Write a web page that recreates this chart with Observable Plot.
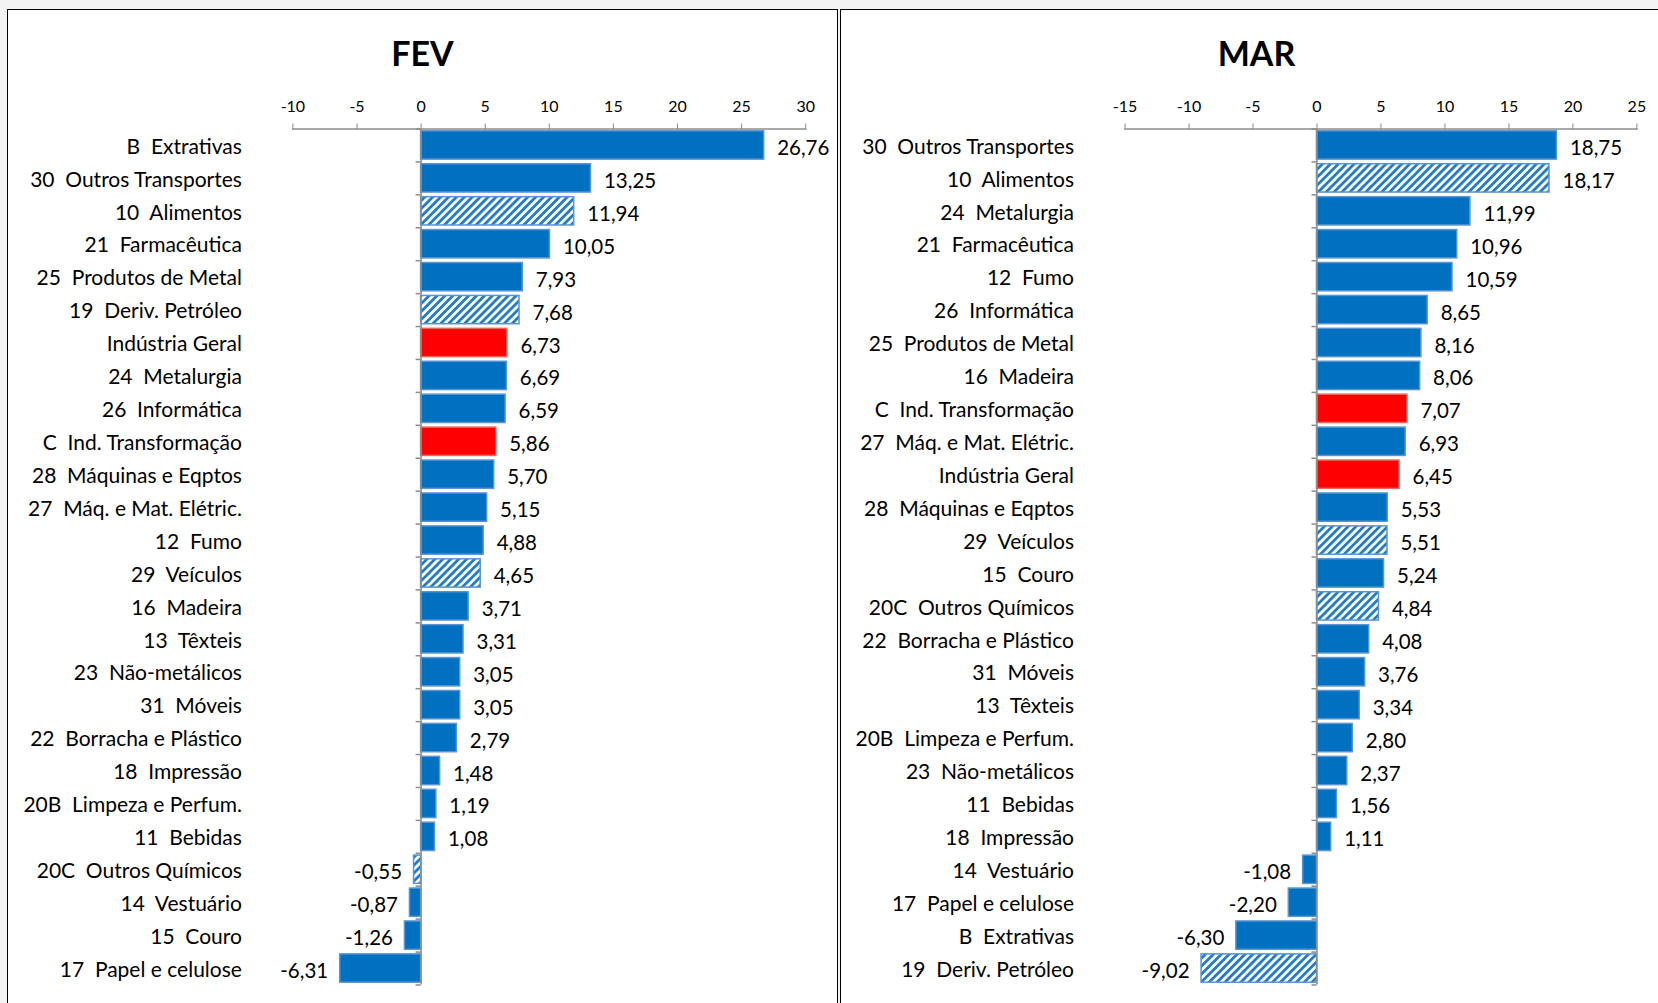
<!DOCTYPE html>
<html><head><meta charset="utf-8">
<script src="https://cdn.jsdelivr.net/npm/d3@7"></script>
<script src="https://cdn.jsdelivr.net/npm/@observablehq/plot@0.6"></script>
<style>
body{margin:0;width:1658px;height:1003px;overflow:hidden;background:#f3f3f3;font-family:Lato,"Open Sans",sans-serif;position:relative}
.panel{position:absolute;top:9px;height:1000px;background:#fff;border:1.5px solid #000;border-bottom:none;overflow:hidden}
#fev{left:7px;width:829px}
#mar{left:840px;width:830px}
.title{position:absolute;left:0;right:0;text-align:center;font-weight:bold;font-size:34px;top:26px;color:#000;line-height:1}
#mar .title{left:0;width:831px;right:auto}
.panel svg{position:absolute;left:0;top:0;white-space:pre}
</style>
</head><body>
<svg width="0" height="0" style="position:absolute">
  <defs>
    <pattern id="hatch" patternUnits="userSpaceOnUse" width="5.6" height="5.6" patternTransform="rotate(45)">
      <rect width="5.6" height="5.6" fill="#ffffff"/>
      <rect width="2.7" height="5.6" fill="#1a78c8"/>
    </pattern>
  </defs>
</svg>
<div class="panel" id="fev"><div class="title">FEV</div></div>
<div class="panel" id="mar"><div class="title">MAR</div></div>
<script>
// ---- Data ----
const fevCategories = ["B  Extrativas","30  Outros Transportes","10  Alimentos","21  Farmacêutica","25  Produtos de Metal","19  Deriv. Petróleo","Indústria Geral","24  Metalurgia","26  Informática","C  Ind. Transformação","28  Máquinas e Eqptos","27  Máq. e Mat. Elétric.","12  Fumo","29  Veículos","16  Madeira","13  Têxteis","23  Não-metálicos","31  Móveis","22  Borracha e Plástico","18  Impressão","20B  Limpeza e Perfum.","11  Bebidas","20C  Outros Químicos","14  Vestuário","15  Couro","17  Papel e celulose"];
const fevValues = [26.76,13.25,11.94,10.05,7.93,7.68,6.73,6.69,6.59,5.86,5.70,5.15,4.88,4.65,3.71,3.31,3.05,3.05,2.79,1.48,1.19,1.08,-0.55,-0.87,-1.26,-6.31];

const marCategories = ["30  Outros Transportes","10  Alimentos","24  Metalurgia","21  Farmacêutica","12  Fumo","26  Informática","25  Produtos de Metal","16  Madeira","C  Ind. Transformação","27  Máq. e Mat. Elétric.","Indústria Geral","28  Máquinas e Eqptos","29  Veículos","15  Couro","20C  Outros Químicos","22  Borracha e Plástico","31  Móveis","13  Têxteis","20B  Limpeza e Perfum.","23  Não-metálicos","11  Bebidas","18  Impressão","14  Vestuário","17  Papel e celulose","B  Extrativas","19  Deriv. Petróleo"];
const marValues = [18.75,18.17,11.99,10.96,10.59,8.65,8.16,8.06,7.07,6.93,6.45,5.53,5.51,5.24,4.84,4.08,3.76,3.34,2.80,2.37,1.56,1.11,-1.08,-2.20,-6.30,-9.02];

const hatchedCategories = ["10  Alimentos","19  Deriv. Petróleo","29  Veículos","20C  Outros Químicos"];
const totalCategories = ["Indústria Geral","C  Ind. Transformação"];

const fevTicks = [-10,-5,0,5,10,15,20,25,30];
const marTicks = [-15,-10,-5,0,5,10,15,20,25];

// ---- Chart ----
function fmt(v){ return v.toFixed(2).replace(".", ","); }
function fillFor(c){
  if (hatchedCategories.includes(c)) return "url(#hatch)";
  if (totalCategories.includes(c)) return "#FF0000";
  return "#0070C0";
}
function strokeFor(c){
  if (totalCategories.includes(c)) return "#e8685f";
  return "#5a94d2";
}

function makeChart(cats, vals, ticks, opts){
  const data = cats.map((c,i)=>({cat:c, v:vals[i]}));
  const height = 990, marginTop = 118.5, marginBottom = 15.5;
  const step = (height - marginTop - marginBottom) / cats.length;
  const pos = data.filter(d=>d.v>=0), neg = data.filter(d=>d.v<0);
  const tickLen = 5 / ((opts.width - opts.marginLeft - opts.marginRight) / (ticks[ticks.length-1]-ticks[0]));
  return Plot.plot({
    width: opts.width, height,
    marginLeft: opts.marginLeft, marginRight: opts.marginRight,
    marginTop, marginBottom,
    style: {fontFamily: "Lato, 'Open Sans', sans-serif", background: "transparent", color: "#000"},
    x: {domain: [ticks[0], ticks[ticks.length-1]], label: null},
    y: {domain: cats, paddingInner: 0.14, paddingOuter: 0.07, round: false, label: null},
    color: {type: "identity"},
    marks: [
      Plot.frame({anchor: "top", stroke: "#8c8c8c", strokeWidth: 1.5}),
      Plot.axisX({anchor: "top", ticks, tickFormat: d => String(d), tickSize: 6, tickPadding: 11, fontSize: 16, stroke: "#8c8c8c", fill: "#000", label: null}),
      Plot.barX(data, {y: "cat", x: "v", fill: d => fillFor(d.cat), stroke: d => strokeFor(d.cat), strokeWidth: 1.5}),
      Plot.ruleX([0], {stroke: "#8c8c8c", strokeWidth: 1.5}),
      Plot.ruleY(data, {y: "cat", x1: -tickLen, x2: 0, dy: -step/2, stroke: "#8c8c8c", strokeWidth: 1.5}),
      Plot.ruleY(data.slice(-1), {y: "cat", x1: -tickLen, x2: 0, dy: step/2, stroke: "#8c8c8c", strokeWidth: 1.5}),
      Plot.axisY({anchor: "left", tickSize: 0, tickPadding: 51, fontSize: 21, dy: 1.5, fill: "#000", label: null}),
      Plot.text(pos, {y: "cat", x: "v", text: d => fmt(d.v), textAnchor: "start", dx: 13, dy: 3, fontSize: 20.5, fill: "#000"}),
      Plot.text(neg, {y: "cat", x: "v", text: d => fmt(d.v), textAnchor: "end", dx: -12, dy: 3, fontSize: 20.5, fill: "#000"})
    ]
  });
}

document.getElementById("fev").append(makeChart(fevCategories, fevValues, fevTicks, {width: 829, marginLeft: 284.4, marginRight: 31.8}));
document.getElementById("mar").append(makeChart(marCategories, marValues, marTicks, {width: 830, marginLeft: 283.5, marginRight: 34.6}));
</script>
</body></html>
